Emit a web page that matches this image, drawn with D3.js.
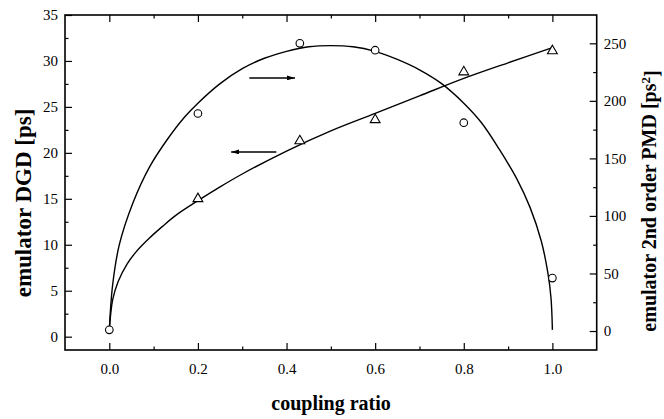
<!DOCTYPE html>
<html>
<head>
<meta charset="utf-8">
<script src="https://cdn.jsdelivr.net/npm/d3@7"></script>
<style>
  html, body { margin: 0; padding: 0; background: #fff; }
  svg { display: block; }
  text { font-family: "Liberation Serif", "Times New Roman", serif; fill: #000; }
</style>
</head>
<body>
<svg id="chart" width="664" height="419"></svg>
<script>
// ---------- data ----------
// measured points: emulator 2nd order PMD (circles, right axis)
const pmdRatio = [0, 0.2, 0.43, 0.6, 0.8, 1.0];
const pmdValues = [1, 189, 250, 244, 181, 46];

// measured points: emulator DGD (triangles, left axis)
const dgdRatio = [0.2, 0.43, 0.6, 0.8, 1.0];
const dgdValues = [15.0, 21.3, 23.6, 28.8, 31.1];

// fitted curve, PMD (right axis)
const pmdFitRatio = [0, 0.0075, 0.0226, 0.053, 0.09, 0.13, 0.17, 0.2, 0.25, 0.3, 0.35, 0.4, 0.45, 0.5,
                     0.55, 0.6, 0.65, 0.7, 0.75, 0.8, 0.84, 0.88, 0.92, 0.95, 0.975, 0.99, 0.997, 1.0];
const pmdFitValues = [1, 40, 75, 111, 142, 166, 186, 198, 215, 228, 237, 243, 247, 248,
                      247, 243, 236, 227, 215, 198, 181, 158, 132, 107, 78, 50, 28, 1];

// fitted curve, DGD (left axis)
const dgdFitRatio = [0, 0.0075, 0.02, 0.04, 0.06, 0.09, 0.12, 0.15, 0.2, 0.25, 0.3, 0.4, 0.5, 0.6, 0.7, 0.8, 0.9, 1.0];
const dgdFitValues = [0.7, 4.0, 6.0, 7.9, 9.2, 10.7, 12.0, 13.2, 14.8, 16.3, 17.7, 20.2, 22.4, 24.3, 26.2, 28.1, 29.8, 31.45];

// tick values
const xTickValues = [0, 0.2, 0.4, 0.6, 0.8, 1.0];
const xMinorTicks = [0.1, 0.3, 0.5, 0.7, 0.9];
const leftTickValues = [0, 5, 10, 15, 20, 25, 30, 35];
const leftMinorTicks = [2.5, 7.5, 12.5, 17.5, 22.5, 27.5, 32.5];
const rightTickValues = [0, 50, 100, 150, 200, 250];
const rightMinorTicks = [25, 75, 125, 175, 225];

// annotation arrows: [x0, x1, left-axis y], head at x1
const arrowRatio = [[0.316, 0.419, 28.15], [0.377, 0.275, 20.1]];

// labels
const xTitle = "coupling ratio";
const leftTitle = "emulator DGD [ps]";
const rightTitle = "emulator 2nd order PMD [ps";

// ---------- layout ----------
const L = 65, R = 596.7, T = 15, B = 350;
const svg = d3.select("#chart");

const x = d3.scaleLinear().domain([-0.1, 1.1]).range([L, R]);
const yL = d3.scaleLinear().domain([-1.45, 35]).range([B, T]);
const yR = d3.scaleLinear().domain([-16.5, 274.6]).range([B, T]);

const major = 7, minor = 3.5;

function clean(g) { g.select(".domain").remove(); g.selectAll("line").attr("stroke", "#000").attr("stroke-width", 1.2); }

// bottom axis
svg.append("g").attr("transform", `translate(0,${B})`)
  .call(d3.axisBottom(x).tickValues(xTickValues).tickFormat(d3.format(".1f")).tickSizeInner(-major).tickSizeOuter(0).tickPadding(13))
  .call(clean)
  .selectAll("text").attr("font-size", 15).attr("font-family", "Liberation Serif");
svg.append("g").attr("transform", `translate(0,${B})`)
  .call(d3.axisBottom(x).tickValues(xMinorTicks).tickFormat("").tickSizeInner(-minor).tickSizeOuter(0))
  .call(clean);
// top axis
svg.append("g").attr("transform", `translate(0,${T})`)
  .call(d3.axisTop(x).tickValues(xTickValues).tickFormat("").tickSizeInner(-major).tickSizeOuter(0))
  .call(clean);
svg.append("g").attr("transform", `translate(0,${T})`)
  .call(d3.axisTop(x).tickValues(xMinorTicks).tickFormat("").tickSizeInner(-minor).tickSizeOuter(0))
  .call(clean);
// left axis
svg.append("g").attr("transform", `translate(${L},0)`)
  .call(d3.axisLeft(yL).tickValues(leftTickValues).tickFormat(d3.format("d")).tickSizeInner(-major).tickSizeOuter(0).tickPadding(7))
  .call(clean)
  .selectAll("text").attr("font-size", 15).attr("font-family", "Liberation Serif");
svg.append("g").attr("transform", `translate(${L},0)`)
  .call(d3.axisLeft(yL).tickValues(leftMinorTicks).tickFormat("").tickSizeInner(-minor).tickSizeOuter(0))
  .call(clean);
// right axis
svg.append("g").attr("transform", `translate(${R},0)`)
  .call(d3.axisRight(yR).tickValues(rightTickValues).tickFormat(d3.format("d")).tickSizeInner(-major).tickSizeOuter(0).tickPadding(7))
  .call(clean)
  .selectAll("text").attr("font-size", 15).attr("font-family", "Liberation Serif");
svg.append("g").attr("transform", `translate(${R},0)`)
  .call(d3.axisRight(yR).tickValues(rightMinorTicks).tickFormat("").tickSizeInner(-minor).tickSizeOuter(0))
  .call(clean);

// frame
svg.append("rect").attr("x", L).attr("y", T).attr("width", R - L).attr("height", B - T)
  .attr("fill", "none").attr("stroke", "#000").attr("stroke-width", 1.6);

// fitted curves
const pmdLine = d3.line().x(d => x(d[0])).y(d => yR(d[1])).curve(d3.curveCatmullRom.alpha(0.5));
const dgdLine = d3.line().x(d => x(d[0])).y(d => yL(d[1])).curve(d3.curveCatmullRom.alpha(0.5));
svg.append("path").datum(d3.zip(pmdFitRatio, pmdFitValues)).attr("d", pmdLine)
  .attr("fill", "none").attr("stroke", "#000").attr("stroke-width", 1.4);
svg.append("path").datum(d3.zip(dgdFitRatio, dgdFitValues)).attr("d", dgdLine)
  .attr("fill", "none").attr("stroke", "#000").attr("stroke-width", 1.4);

// markers
svg.append("g").selectAll("circle").data(d3.zip(pmdRatio, pmdValues)).join("circle")
  .attr("cx", d => x(d[0])).attr("cy", d => yR(d[1])).attr("r", 3.8)
  .attr("fill", "#fff").attr("stroke", "#000").attr("stroke-width", 1.1);
svg.append("g").selectAll("path").data(d3.zip(dgdRatio, dgdValues)).join("path")
  .attr("transform", d => `translate(${x(d[0])},${yL(d[1])})`)
  .attr("d", d3.symbol(d3.symbolTriangle, 42))
  .attr("fill", "#fff").attr("stroke", "#000").attr("stroke-width", 1.1);

// arrows
const defs = svg.append("defs");
defs.append("marker").attr("id", "ah").attr("viewBox", "0 0 10 6").attr("refX", 10).attr("refY", 3)
  .attr("markerWidth", 8).attr("markerHeight", 5).attr("markerUnits", "userSpaceOnUse").attr("orient", "auto")
  .append("path").attr("d", "M0,0 L10,3 L0,6 Z").attr("fill", "#000");
svg.append("g").selectAll("line").data(arrowRatio).join("line")
  .attr("x1", d => x(d[0])).attr("x2", d => x(d[1]))
  .attr("y1", d => yL(d[2])).attr("y2", d => yL(d[2]))
  .attr("stroke", "#000").attr("stroke-width", 1.4).attr("marker-end", "url(#ah)");

// titles
svg.append("text").attr("x", 331).attr("y", 410).attr("text-anchor", "middle")
  .attr("font-size", 20).attr("font-weight", "bold").text(xTitle);
svg.append("text").attr("transform", "translate(23,203) rotate(-90)").attr("dy", "0.35em")
  .attr("text-anchor", "middle").attr("font-size", 23).attr("font-weight", "bold").text(leftTitle);
const rt = svg.append("text").attr("transform", "translate(649,201) rotate(-90)").attr("dy", "0.35em")
  .attr("text-anchor", "middle").attr("font-size", 20).attr("font-weight", "bold");
rt.append("tspan").text(rightTitle);
rt.append("tspan").attr("dy", "-0.45em").attr("font-size", 13).text("2");
rt.append("tspan").attr("dy", "0.45em").text("]");
</script>
</body>
</html>
